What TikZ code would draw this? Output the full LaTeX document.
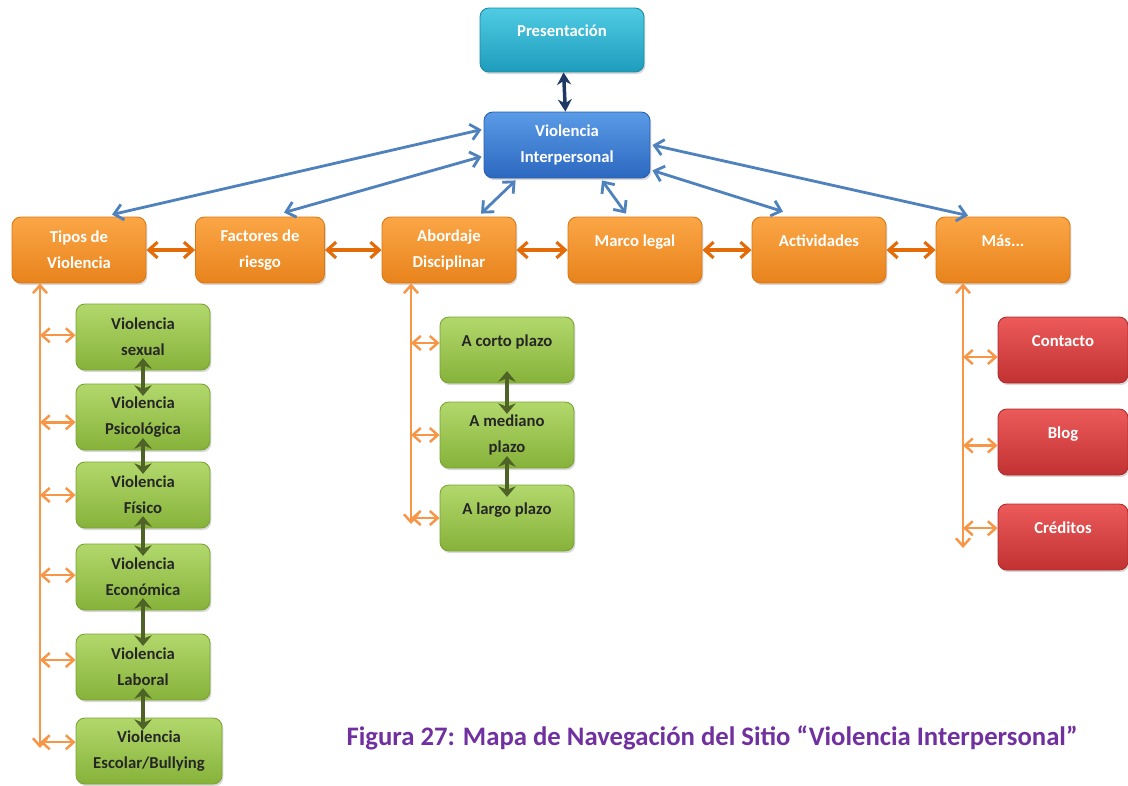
\documentclass[tikz,border=0pt]{standalone}
\usepackage{fontspec}
\setmainfont{Carlito}
\usetikzlibrary{arrows.meta,calc,shadows}
\definecolor{presT}{HTML}{4FCBE3}
\definecolor{presB}{HTML}{1E9CBC}
\definecolor{presD}{HTML}{1A8AA6}
\definecolor{viT}{HTML}{5A9BE6}
\definecolor{viB}{HTML}{2C68C0}
\definecolor{viD}{HTML}{2A5FAE}
\definecolor{oraT}{HTML}{FBA646}
\definecolor{oraB}{HTML}{E8831C}
\definecolor{oraD}{HTML}{D87818}
\definecolor{grnT}{HTML}{B2D86C}
\definecolor{grnB}{HTML}{86B23A}
\definecolor{grnD}{HTML}{7AA332}
\definecolor{redT}{HTML}{EC5A5A}
\definecolor{redB}{HTML}{C23232}
\definecolor{redD}{HTML}{B02C2C}
\definecolor{navyc}{HTML}{1F3864}
\definecolor{bluec}{HTML}{4F81BD}
\definecolor{hlinkc}{HTML}{E36C09}
\definecolor{branchc}{HTML}{F79646}
\definecolor{glinkc}{HTML}{4F6228}
\definecolor{capc}{HTML}{7030A0}
\tikzset{
  basebox/.style={rounded corners=5pt, minimum width=2.68cm, minimum height=1.32cm, inner sep=2pt,
               align=center, font=\bfseries\fontsize{9.5}{14.8}\selectfont, line width=0.5pt,
               drop shadow={opacity=0.3, shadow xshift=0.8pt, shadow yshift=-1.2pt}},
  presbox/.style={basebox, top color=presT, bottom color=presB, draw=presD, text=white},
  vibox/.style={basebox, top color=viT, bottom color=viB, draw=viD, text=white},
  menubox/.style={basebox, top color=oraT, bottom color=oraB, draw=oraD, text=white},
  subbox/.style={basebox, top color=grnT, bottom color=grnB, draw=grnD, text=black!85},
  morebox/.style={basebox, top color=redT, bottom color=redB, draw=redD, text=white},
  oneline/.style={text depth=0.37cm},
  navylink/.style={{Stealth[length=7pt,width=8pt]}-{Stealth[length=7pt,width=8pt]}, line width=2pt, draw=navyc},
  bluelink/.style={{Straight Barb[length=5pt,width=9pt]}-{Straight Barb[length=5pt,width=9pt]}, line width=1.6pt, draw=bluec},
  hlink/.style={{Straight Barb[length=5pt,width=9pt]}-{Straight Barb[length=5pt,width=9pt]}, line width=1.8pt, draw=hlinkc},
  branch/.style={{Straight Barb[length=4.5pt,width=8pt]}-{Straight Barb[length=4.5pt,width=8pt]}, line width=1.4pt, draw=branchc},
  glink/.style={{Stealth[length=6pt,width=10pt]}-{Stealth[length=6pt,width=10pt]}, line width=2.2pt, draw=glinkc,
               shorten <=-7pt, shorten >=-7pt},
  caption/.style={font=\bfseries\fontsize{15.2}{18}\selectfont, text=capc},
}
\def\yM{250}
\def\xG{143}
\def\xA{507}
\def\xR{1063}
\begin{document}
\begin{tikzpicture}[x=0.02cm, y=-0.02cm]
  \useasboundingbox (0,0) rectangle (1128,785);
  \node[presbox, oneline, minimum width=3.28cm, minimum height=1.28cm] (pres) at (562,40) {Presentación};
  \node[vibox, minimum width=3.32cm] (vi) at (567,145) {Violencia\\Interpersonal};
  \node[menubox] (tipos) at (79,\yM) {Tipos de\\Violencia};
  \node[menubox, minimum width=2.58cm] (factores) at (260,\yM) {Factores de\\riesgo};
  \node[menubox] (abordaje) at (449,\yM) {Abordaje\\Disciplinar};
  \node[menubox, oneline] (marco) at (635,\yM) {Marco legal};
  \node[menubox, oneline] (activ) at (819,\yM) {Actividades};
  \node[menubox, oneline] (mas) at (1003,\yM) {Más...};
  \node[subbox] (sexual) at (\xG,337) {Violencia\\sexual};
  \node[subbox] (psico) at (\xG,417) {Violencia\\Psicológica};
  \node[subbox] (fisico) at (\xG,495) {Violencia\\Físico};
  \node[subbox] (econ) at (\xG,577) {Violencia\\Económica};
  \node[subbox] (laboral) at (\xG,667) {Violencia\\Laboral};
  \node[subbox, minimum width=2.92cm] (escolar) at (149,751) {Violencia\\Escolar/Bullying};
  \node[subbox, oneline] (corto) at (\xA,350) {A corto plazo};
  \node[subbox] (mediano) at (\xA,435) {A mediano\\plazo};
  \node[subbox, oneline] (largo) at (\xA,518) {A largo plazo};
  \node[morebox, minimum width=2.6cm, oneline] (contacto) at (\xR,350) {Contacto};
  \node[morebox, minimum width=2.6cm, oneline] (blog) at (\xR,442) {Blog};
  \node[morebox, minimum width=2.6cm, oneline] (creditos) at (\xR,537) {Créditos};
  \node[caption] (cap) at (712,738) {Figura 27: Mapa de Navegación del Sitio “Violencia Interpersonal”};
  \draw[navylink] (pres) -- (vi);
  \draw[bluelink] ($(vi.north west)+(-2,18)$) -- ($(tipos.north)+(33,-2)$);
  \draw[bluelink] ($(vi.north west)+(-2,45)$) -- ($(factores.north)+(24,-4)$);
  \draw[bluelink] ($(vi.south west)+(32,2)$) -- ($(abordaje.north)+(32,-3)$);
  \draw[bluelink] ($(vi.south)+(35,2)$) -- ($(marco.north)+(-9,-3)$);
  \draw[bluelink] ($(vi.south east)+(2,-8)$) -- ($(activ.north)+(-36,-5)$);
  \draw[bluelink] ($(vi.east)+(2,0)$) -- ($(mas.north)+(-35,-1)$);
  \draw[hlink] (tipos) -- (factores);
  \draw[hlink] (factores) -- (abordaje);
  \draw[hlink] (abordaje) -- (marco);
  \draw[hlink] (marco) -- (activ);
  \draw[hlink] (activ) -- (mas);
  \coordinate (tEnd) at (40,748);
  \coordinate (aEnd) at (411,524);
  \coordinate (mEnd) at (963,548);
  \draw[branch] (tipos.south -| tEnd) -- (tEnd);
  \draw[branch] (abordaje.south -| aEnd) -- (aEnd);
  \draw[branch] (mas.south -| mEnd) -- (mEnd);
  \draw[branch] ([yshift=1pt]sexual.west -| tEnd) -- ([yshift=1pt]sexual.west);
  \draw[branch] ([yshift=-3pt]psico.west -| tEnd) -- ([yshift=-3pt]psico.west);
  \draw[branch] (fisico.west -| tEnd) -- (fisico.west);
  \draw[branch] ([yshift=1pt]econ.west -| tEnd) -- ([yshift=1pt]econ.west);
  \draw[branch] ([yshift=4pt]laboral.west -| tEnd) -- ([yshift=4pt]laboral.west);
  \draw[branch] ([yshift=5pt]escolar.west -| tEnd) -- ([yshift=5pt]escolar.west);
  \draw[branch] ([yshift=4pt]corto.west -| aEnd) -- ([yshift=4pt]corto.west);
  \draw[branch] (mediano.west -| aEnd) -- (mediano.west);
  \draw[branch] (largo.west -| aEnd) -- (largo.west);
  \draw[branch] ([yshift=-4pt]contacto.west -| mEnd) -- ([yshift=-4pt]contacto.west);
  \draw[branch] ([yshift=-2pt]blog.west -| mEnd) -- ([yshift=-2pt]blog.west);
  \draw[branch] ([yshift=5pt]creditos.west -| mEnd) -- ([yshift=5pt]creditos.west);
  \draw[glink] (sexual) -- (psico);
  \draw[glink] (psico) -- (fisico);
  \draw[glink] (fisico) -- (econ);
  \draw[glink] (econ) -- (laboral);
  \draw[glink] (laboral.south) -- (laboral.south |- escolar.north);
  \draw[glink] (corto) -- (mediano);
  \draw[glink] (mediano) -- (largo);
\end{tikzpicture}
\end{document}
